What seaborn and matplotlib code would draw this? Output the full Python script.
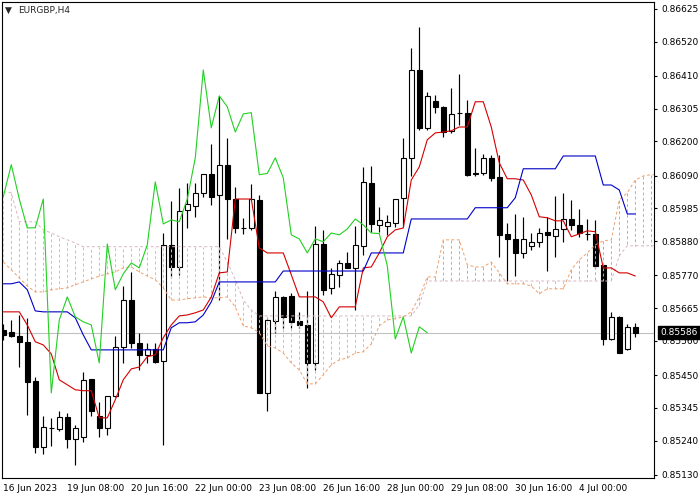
import matplotlib
matplotlib.use("Agg")
import matplotlib.pyplot as plt
import matplotlib.transforms as mtransforms
import numpy as np
import pandas as pd
import seaborn as sns

symbol = "EURGBP,H4"
last_price = 0.85586

# H4 candles, 16 Jun 2023 00:00 .. 4 Jul 2023 12:00
opens = [0.85595, 0.85589, 0.85576, 0.85557, 0.85432, 0.85220, 0.85281, 0.85278, 0.85316, 0.85246,
         0.85252, 0.85438, 0.85319, 0.85281, 0.85383, 0.85541, 0.85691, 0.85553, 0.85515, 0.85534,
         0.85496, 0.85868, 0.85797, 0.85980, 0.85993, 0.86035, 0.86096, 0.86028, 0.86125, 0.86015,
         0.85922, 0.85922, 0.86012, 0.85393, 0.85624, 0.85701, 0.85704, 0.85624, 0.85611, 0.85489,
         0.85871, 0.85730, 0.85772, 0.85810, 0.85794, 0.85865, 0.86067, 0.85932, 0.85929, 0.85939,
         0.86019, 0.86147, 0.86429, 0.86243, 0.86330, 0.86311, 0.86234, 0.86291, 0.86291, 0.86096,
         0.86099, 0.86147, 0.86086, 0.85903, 0.85887, 0.85842, 0.85865, 0.85878, 0.85910, 0.85897,
         0.85919, 0.85951, 0.85932, 0.85903, 0.85903, 0.85804, 0.85566, 0.85637, 0.85534, 0.85605]
highs = [0.85614, 0.85627, 0.85643, 0.85634, 0.85444, 0.85319, 0.85313, 0.85335, 0.85329, 0.85290,
         0.85460, 0.85438, 0.85364, 0.85383, 0.85576, 0.85736, 0.85781, 0.85586, 0.85553, 0.85553,
         0.85906, 0.86009, 0.86051, 0.86067, 0.86067, 0.86096, 0.86192, 0.86346, 0.86211, 0.86054,
         0.85955, 0.86064, 0.86028, 0.85634, 0.85720, 0.85704, 0.85714, 0.85653, 0.85720, 0.85929,
         0.85916, 0.85794, 0.85820, 0.85845, 0.85929, 0.86118, 0.86121, 0.85990, 0.85964, 0.86015,
         0.86211, 0.86500, 0.86567, 0.86359, 0.86349, 0.86314, 0.86372, 0.86417, 0.86333, 0.86179,
         0.86160, 0.86157, 0.86157, 0.85939, 0.85967, 0.85958, 0.85906, 0.85922, 0.85958, 0.86025,
         0.86035, 0.86012, 0.85983, 0.85951, 0.85948, 0.85804, 0.85653, 0.85640, 0.85614, 0.85618]
lows = [0.85563, 0.85573, 0.85476, 0.85323, 0.85201, 0.85197, 0.85223, 0.85271, 0.85217, 0.85162,
        0.85236, 0.85319, 0.85252, 0.85258, 0.85380, 0.85489, 0.85537, 0.85467, 0.85489, 0.85489,
        0.85226, 0.85765, 0.85772, 0.85922, 0.85958, 0.86022, 0.85996, 0.85691, 0.85887, 0.85906,
        0.85903, 0.85916, 0.85393, 0.85335, 0.85586, 0.85602, 0.85602, 0.85602, 0.85409, 0.85467,
        0.85708, 0.85711, 0.85733, 0.85794, 0.85659, 0.85836, 0.85910, 0.85910, 0.85900, 0.85926,
        0.85926, 0.86089, 0.86237, 0.86237, 0.86291, 0.86214, 0.86227, 0.86253, 0.86089, 0.86089,
        0.86093, 0.86073, 0.85829, 0.85752, 0.85768, 0.85826, 0.85852, 0.85862, 0.85784, 0.85829,
        0.85878, 0.85916, 0.85894, 0.85884, 0.85794, 0.85547, 0.85563, 0.85521, 0.85531, 0.85573]
closes = [0.85579, 0.85576, 0.85557, 0.85428, 0.85220, 0.85284, 0.85282, 0.85316, 0.85246, 0.85281,
          0.85435, 0.85335, 0.85281, 0.85383, 0.85541, 0.85691, 0.85553, 0.85515, 0.85534, 0.85493,
          0.85868, 0.85797, 0.85977, 0.85999, 0.86035, 0.86096, 0.86022, 0.86125, 0.86015, 0.85922,
          0.85923, 0.86015, 0.85393, 0.85627, 0.85701, 0.85637, 0.85621, 0.85611, 0.85489, 0.85871,
          0.85724, 0.85775, 0.85810, 0.85794, 0.85868, 0.86070, 0.85935, 0.85948, 0.85942, 0.86015,
          0.86147, 0.86429, 0.86243, 0.86346, 0.86311, 0.86230, 0.86288, 0.86292, 0.86093, 0.86097,
          0.86147, 0.86083, 0.85900, 0.85887, 0.85842, 0.85887, 0.85878, 0.85906, 0.85900, 0.85919,
          0.85951, 0.85932, 0.85906, 0.85904, 0.85801, 0.85566, 0.85637, 0.85521, 0.85605, 0.85586]

# Ichimoku lines
tenkan = [0.85653, 0.85653, 0.85653, 0.85611, 0.85557, 0.85547, 0.85518, 0.85435, 0.85419, 0.85403,
          0.85400, 0.85400, 0.85313, 0.85313, 0.85371, 0.85435, 0.85470, 0.85476, 0.85509, 0.85515,
          0.85570, 0.85611, 0.85640, 0.85643, 0.85650, 0.85659, 0.85701, 0.85778, 0.85781, 0.86015,
          0.86015, 0.86015, 0.85858, 0.85842, 0.85842, 0.85842, 0.85772, 0.85701, 0.85701, 0.85701,
          0.85685, 0.85634, 0.85669, 0.85669, 0.85669, 0.85794, 0.85797, 0.85842, 0.85894, 0.85916,
          0.85922, 0.86076, 0.86118, 0.86205, 0.86227, 0.86230, 0.86234, 0.86246, 0.86246, 0.86327,
          0.86327, 0.86246, 0.86131, 0.86080, 0.86080, 0.86076, 0.86028, 0.85958, 0.85955, 0.85945,
          0.85945, 0.85894, 0.85903, 0.85913, 0.85910, 0.85794, 0.85794, 0.85778, 0.85778, 0.85768]
kijun = [0.85743, 0.85743, 0.85749, 0.85724, 0.85656, 0.85653, 0.85653, 0.85653, 0.85653, 0.85634,
         0.85579, 0.85531, 0.85531, 0.85531, 0.85531, 0.85531, 0.85531, 0.85531, 0.85531, 0.85531,
         0.85531, 0.85602, 0.85618, 0.85618, 0.85621, 0.85643, 0.85685, 0.85749, 0.85749, 0.85749,
         0.85749, 0.85749, 0.85749, 0.85749, 0.85749, 0.85784, 0.85784, 0.85784, 0.85784, 0.85784,
         0.85784, 0.85784, 0.85784, 0.85784, 0.85784, 0.85784, 0.85842, 0.85842, 0.85842, 0.85842,
         0.85842, 0.85951, 0.85951, 0.85951, 0.85951, 0.85951, 0.85951, 0.85951, 0.85951, 0.85987,
         0.85987, 0.85987, 0.85987, 0.85987, 0.86019, 0.86112, 0.86112, 0.86112, 0.86112, 0.86112,
         0.86153, 0.86153, 0.86153, 0.86153, 0.86153, 0.86060, 0.86060, 0.86044, 0.85967, 0.85967]
span_a = [0.85813, 0.85788, 0.85762, 0.85736, 0.85717, 0.85717, 0.85724, 0.85727, 0.85730, 0.85740,
          0.85749, 0.85759, 0.85768, 0.85775, 0.85781, 0.85794, 0.85797, 0.85781, 0.85768, 0.85756,
          0.85730, 0.85691, 0.85691, 0.85695, 0.85698, 0.85701, 0.85698, 0.85698, 0.85701, 0.85669,
          0.85608, 0.85602, 0.85586, 0.85544, 0.85537, 0.85521, 0.85489, 0.85467, 0.85422, 0.85422,
          0.85451, 0.85483, 0.85499, 0.85505, 0.85521, 0.85525, 0.85550, 0.85608, 0.85627, 0.85631,
          0.85637, 0.85653, 0.85701, 0.85765, 0.85765, 0.85884, 0.85884, 0.85884, 0.85804, 0.85797,
          0.85797, 0.85813, 0.85778, 0.85743, 0.85743, 0.85743, 0.85736, 0.85711, 0.85727, 0.85727,
          0.85727, 0.85788, 0.85820, 0.85842, 0.85868, 0.85881, 0.85884, 0.86012, 0.86035, 0.86076,
          0.86089, 0.86093, 0.86093]
span_b = [0.86038, 0.86035, 0.85942, 0.85942, 0.85942, 0.85916, 0.85906, 0.85894, 0.85884, 0.85874,
          0.85862, 0.85862, 0.85862, 0.85862, 0.85862, 0.85862, 0.85862, 0.85862, 0.85862, 0.85862,
          0.85862, 0.85862, 0.85862, 0.85862, 0.85862, 0.85862, 0.85862, 0.85862, 0.85813, 0.85756,
          0.85691, 0.85659, 0.85640, 0.85640, 0.85640, 0.85640, 0.85640, 0.85640, 0.85640, 0.85640,
          0.85640, 0.85640, 0.85640, 0.85640, 0.85640, 0.85640, 0.85640, 0.85640, 0.85640, 0.85640,
          0.85640, 0.85640, 0.85675, 0.85752, 0.85752, 0.85752, 0.85752, 0.85752, 0.85752, 0.85752,
          0.85752, 0.85752, 0.85752, 0.85752, 0.85752, 0.85752, 0.85752, 0.85752, 0.85752, 0.85752,
          0.85752, 0.85752, 0.85752, 0.85752, 0.85752, 0.85752, 0.85752, 0.85833, 0.85865, 0.85865,
          0.85865, 0.85865, 0.85865]
chikou_shift = 26

date_ticks = [0, 8, 16, 24, 32, 40, 48, 56, 64, 72]
date_labels = ["16 Jun 2023", "19 Jun 08:00", "20 Jun 16:00", "22 Jun 00:00", "23 Jun 08:00",
               "26 Jun 16:00", "28 Jun 00:00", "29 Jun 08:00", "30 Jun 16:00", "4 Jul 00:00"]
price_ticks = [0.86625, 0.86520, 0.86410, 0.86305, 0.86200, 0.86090, 0.85985, 0.85880,
               0.85770, 0.85665, 0.85560, 0.85450, 0.85345, 0.85240, 0.85130]

sns.set_style("white")
plt.rcParams['font.family'] = ['DejaVu Sans']

fig = plt.figure(figsize=(7, 5), dpi=100)
ax = fig.add_axes([2 / 700, 22 / 500, 652 / 700, 476 / 500])

bars = pd.DataFrame({'open': opens, 'high': highs, 'low': lows, 'close': closes})
bars['idx'] = np.arange(len(bars))
up = bars['close'] >= bars['open']

# candles
ax.axhline(last_price, color='#C0C0C0', lw=0.8, zorder=1)
ax.vlines(bars['idx'], bars['low'], bars['high'], color='black', lw=0.85, zorder=2)
ax.bar(bars['idx'], (bars['close'] - bars['open']).abs(),
       bottom=bars[['open', 'close']].min(axis=1), width=0.62,
       color=np.where(up, 'white', 'black'), edgecolor='black', linewidth=0.8, zorder=3)

# kumo (hatched with dotted verticals, drawn over the candles like MT4 does)
sandy = '#EFA06A'
thistle = '#D8B6C2'
dots = (0, (3, 2.5))
cx = np.arange(len(span_a))
hatch_cols = [sandy if a >= b else thistle for a, b in zip(span_a, span_b)]
ax.vlines(cx, span_a, span_b, colors=hatch_cols, linestyles=[dots], lw=0.7, zorder=4)
sns.lineplot(x=cx, y=span_a, ax=ax, color=sandy, lw=0.7, linestyle=dots, zorder=4)
sns.lineplot(x=cx, y=span_b, ax=ax, color=thistle, lw=0.7, linestyle=dots, zorder=4)

# tenkan, kijun, chikou
sns.lineplot(x=bars['idx'], y=tenkan, ax=ax, color='#D40000', lw=0.8, zorder=5)
sns.lineplot(x=bars['idx'], y=kijun, ax=ax, color='#0000C8', lw=0.8, zorder=5)
chikou = closes[chikou_shift:]
sns.lineplot(x=np.arange(len(chikou)), y=chikou, ax=ax, color='#22D022', lw=0.8, zorder=5)

ax.set_xlim(-0.16, 81.34)
ax.set_ylim(0.85120, 0.86647)
ax.set_xlabel('')
ax.set_ylabel('')

ax.yaxis.tick_right()
ax.set_yticks(price_ticks)
ax.set_yticklabels([f"{v:.5f}" for v in price_ticks])
ax.tick_params(axis='y', which='both', direction='out', length=2.5, width=0.8, pad=2.5,
               labelsize=6.5, right=True, left=False, colors='black')
ax.set_xticks(date_ticks)
ax.set_xticklabels(date_labels)
for t in ax.get_xticklabels():
    t.set_ha('left')
ax.tick_params(axis='x', direction='out', length=3, width=0.8, pad=1.5, labelsize=6.5, colors='black')

for s in ax.spines.values():
    s.set_visible(True)
    s.set_color('black')
    s.set_linewidth(0.8)

trans = mtransforms.blended_transform_factory(ax.transAxes, ax.transData)
ax.text(1.0095, last_price, f"{last_price:.5f}", transform=trans, color='white', fontsize=6.5,
        va='center', ha='left', clip_on=False, zorder=10,
        bbox=dict(boxstyle='square,pad=0.25', fc='black', ec='black'))

fig.text(8 / 700, 1 - 10 / 500, '\u25BC', fontsize=6.5, ha='center', va='center')
fig.text(18 / 700, 1 - 11 / 500, symbol, fontsize=6.5, ha='left', va='center')

fig.savefig('out.png', dpi=100)
